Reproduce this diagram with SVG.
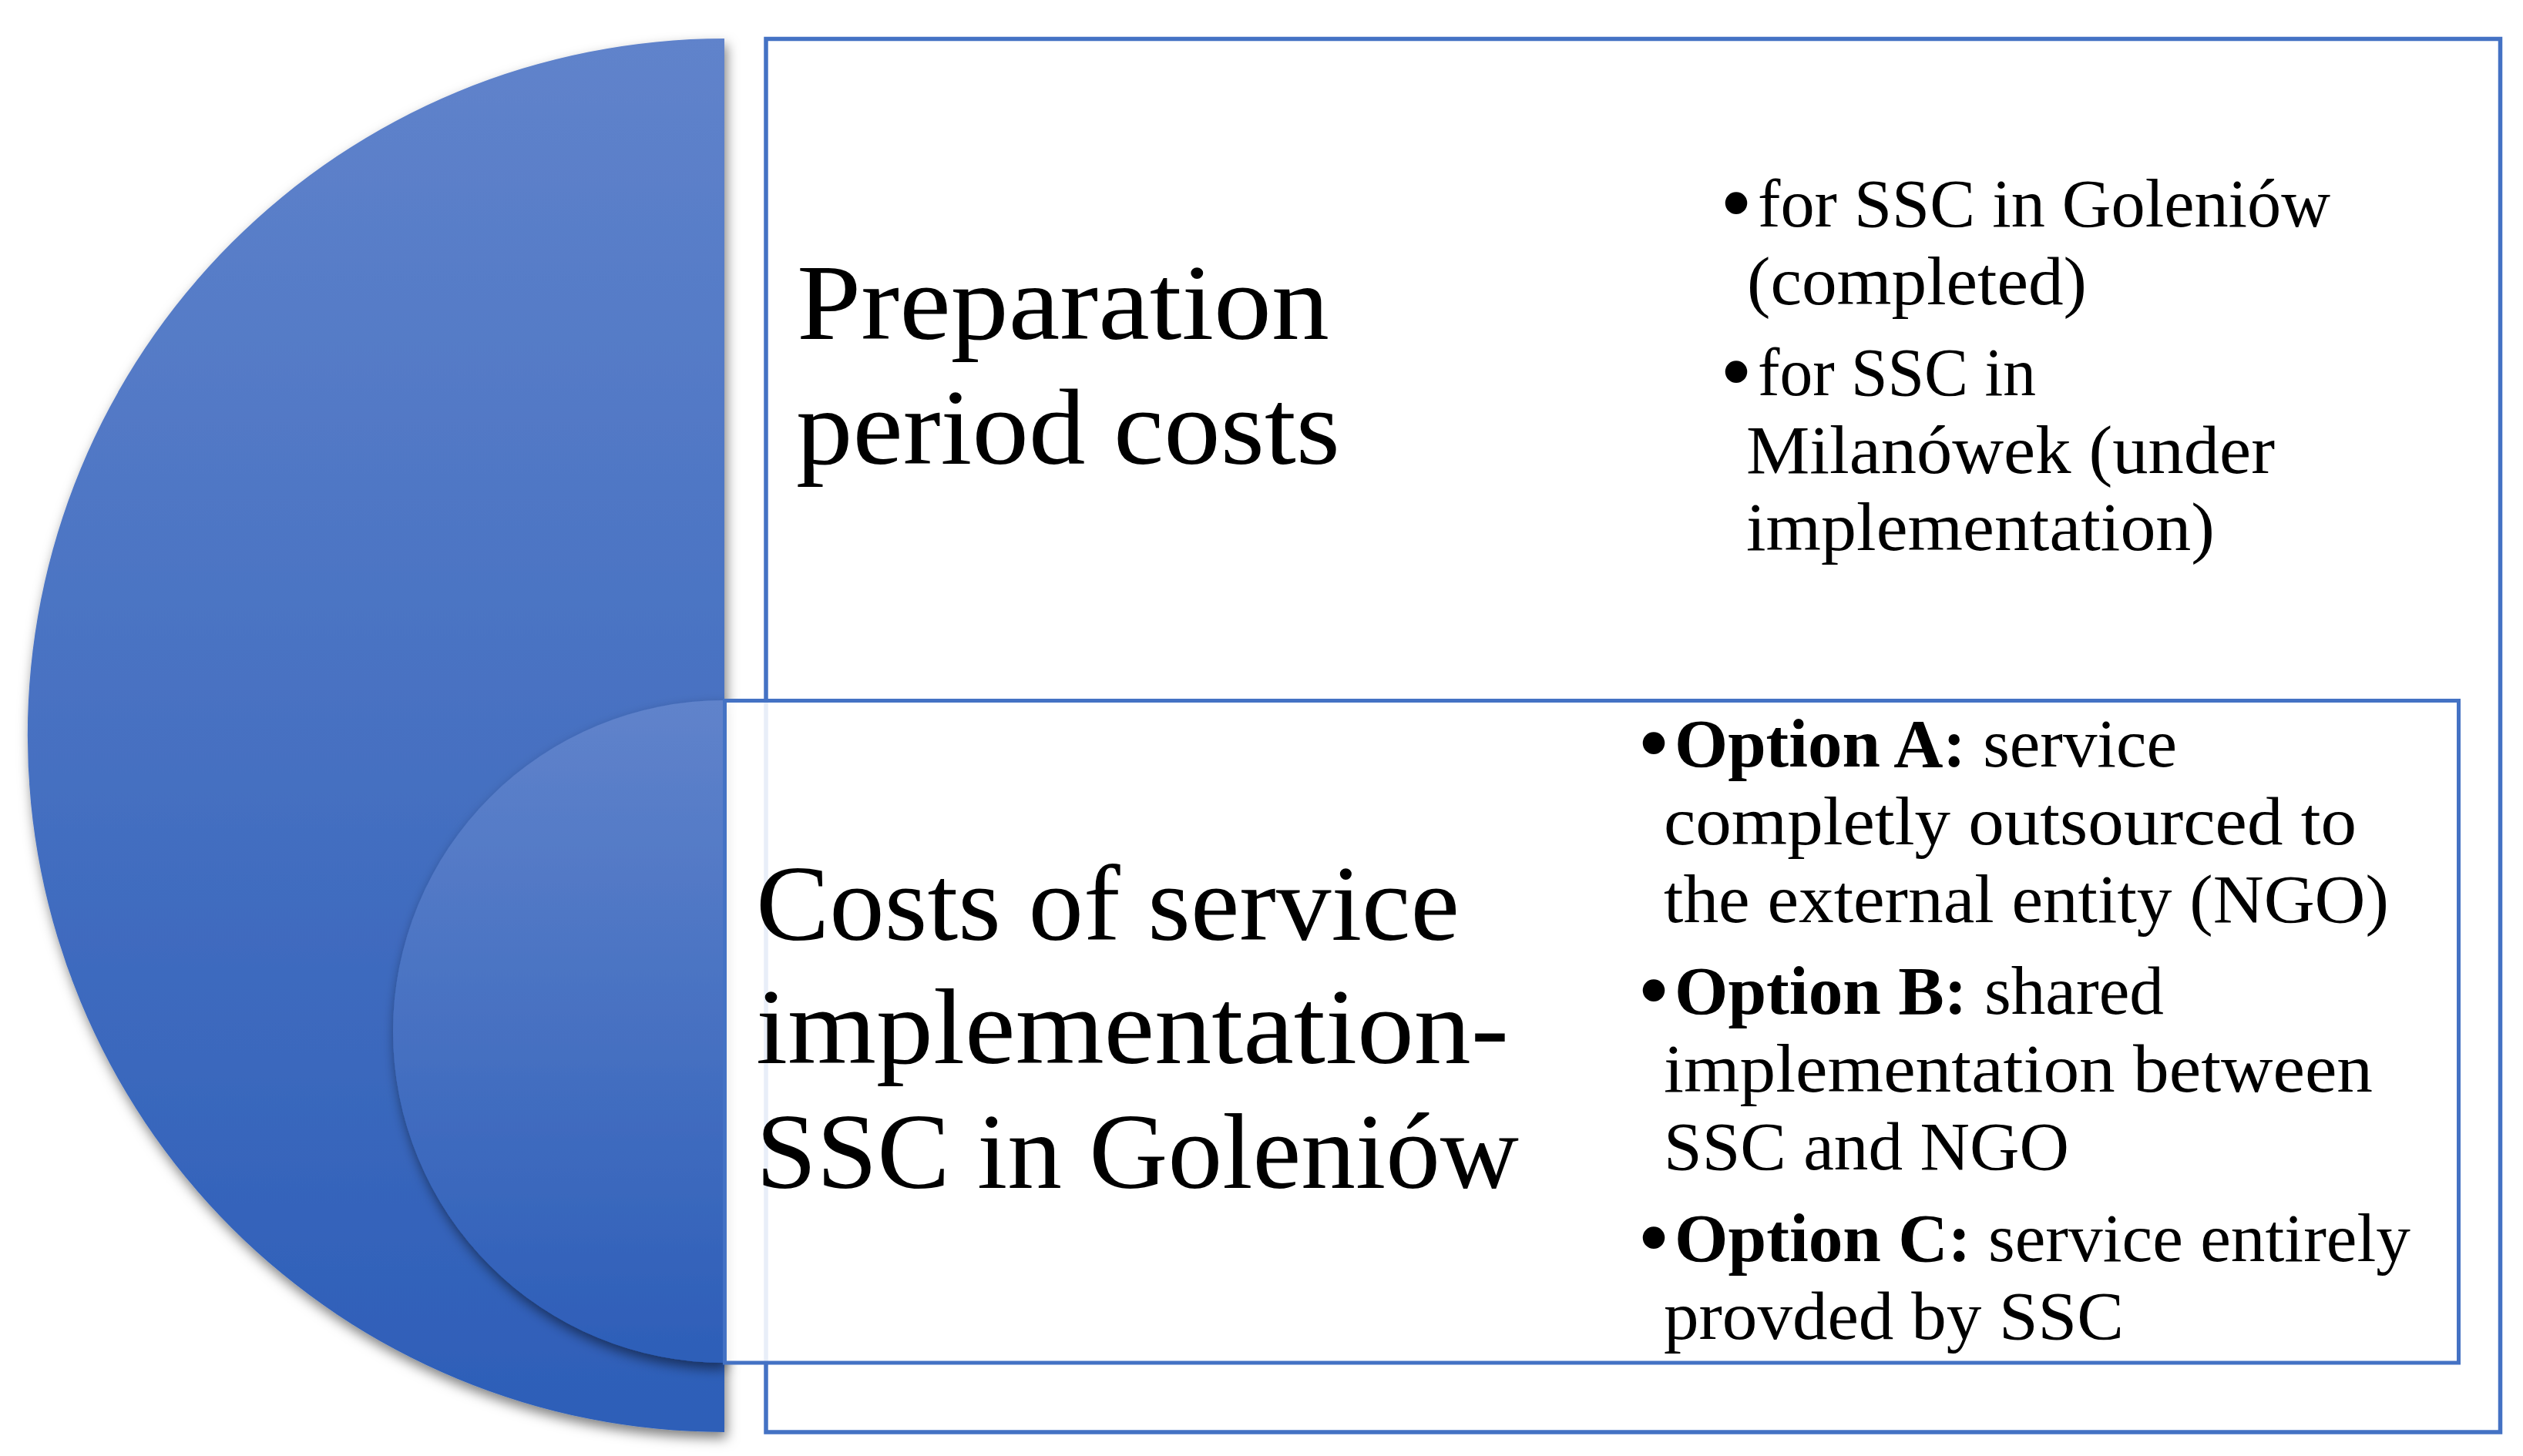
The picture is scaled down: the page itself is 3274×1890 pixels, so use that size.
<svg xmlns="http://www.w3.org/2000/svg" width="3274" height="1890" viewBox="0 0 3274 1890">
<defs>
<style>
.box{fill:#ffffff;stroke:#4472C4;stroke-width:5.5}
.box2{fill:#ffffff;fill-opacity:0.88;stroke:#4472C4;stroke-width:5}
.big{font-family:"Liberation Serif","Times New Roman",serif;font-size:139px;fill:#000}
.sm{font-family:"Liberation Serif","Times New Roman",serif;font-size:88px;fill:#000}
.bul{font-family:"Liberation Serif","Times New Roman",serif;font-size:120px;fill:#000;text-anchor:middle}
.b{font-weight:bold}
</style>
<linearGradient id="grad" x1="0" y1="0" x2="0" y2="1">
<stop offset="0" stop-color="#6083CB"/>
<stop offset="1" stop-color="#2D5EB8"/>
</linearGradient>
<filter id="shadow" x="-10%" y="-10%" width="125%" height="125%">
<feDropShadow dx="3" dy="8" stdDeviation="8" flood-color="#000" flood-opacity="0.5"/>
</filter>
</defs>
<g id="connectors"/>
<g id="node-preparation">
<path d="M 940 50 A 904.5 904.5 0 0 0 940 1859 Z" fill="url(#grad)" filter="url(#shadow)"/>
<rect class="box" x="994" y="50.5" width="2250.5" height="1808.5"/>
<text class="big" x="1034" y="440" textLength="691" lengthAdjust="spacingAndGlyphs">Preparation</text>
<text class="big" x="1033" y="602" textLength="706" lengthAdjust="spacingAndGlyphs">period costs</text>
<text class="bul" x="2253" y="304">•</text>
<text class="sm" x="2281" y="294" textLength="743" lengthAdjust="spacingAndGlyphs">for SSC in Goleniów</text>
<text class="sm" x="2267" y="395" textLength="441" lengthAdjust="spacingAndGlyphs">(completed)</text>
<text class="bul" x="2253" y="523">•</text>
<text class="sm" x="2281" y="513" textLength="361" lengthAdjust="spacingAndGlyphs">for SSC in</text>
<text class="sm" x="2266" y="614" textLength="686" lengthAdjust="spacingAndGlyphs">Milanówek (under</text>
<text class="sm" x="2266" y="714" textLength="608" lengthAdjust="spacingAndGlyphs">implementation)</text>
</g>
<g id="node-implementation">
<path d="M 940 909 A 430 430 0 0 0 940 1769 Z" fill="url(#grad)" filter="url(#shadow)"/>
<rect class="box2" x="940.5" y="909.5" width="2250" height="859.5"/>
<text class="big" x="981" y="1220" textLength="913" lengthAdjust="spacingAndGlyphs">Costs of service</text>
<text class="big" x="981" y="1380" textLength="977" lengthAdjust="spacingAndGlyphs">implementation-</text>
<text class="big" x="981" y="1542" textLength="990" lengthAdjust="spacingAndGlyphs">SSC in Goleniów</text>
<text class="bul" x="2146" y="1005">•</text>
<text class="sm" x="2173" y="995" textLength="652" lengthAdjust="spacingAndGlyphs"><tspan class="b">Option A:</tspan> service</text>
<text class="sm" x="2159" y="1096" textLength="899" lengthAdjust="spacingAndGlyphs">completly outsourced to</text>
<text class="sm" x="2159" y="1197" textLength="941" lengthAdjust="spacingAndGlyphs">the external entity (NGO)</text>
<text class="bul" x="2146" y="1326">•</text>
<text class="sm" x="2173" y="1316" textLength="635" lengthAdjust="spacingAndGlyphs"><tspan class="b">Option B:</tspan> shared</text>
<text class="sm" x="2159" y="1417" textLength="920" lengthAdjust="spacingAndGlyphs">implementation between</text>
<text class="sm" x="2159" y="1518" textLength="526" lengthAdjust="spacingAndGlyphs">SSC and NGO</text>
<text class="bul" x="2146" y="1647">•</text>
<text class="sm" x="2173" y="1637" textLength="955" lengthAdjust="spacingAndGlyphs"><tspan class="b">Option C:</tspan> service entirely</text>
<text class="sm" x="2159" y="1738" textLength="597" lengthAdjust="spacingAndGlyphs">provded by SSC</text>
</g>
</svg>
